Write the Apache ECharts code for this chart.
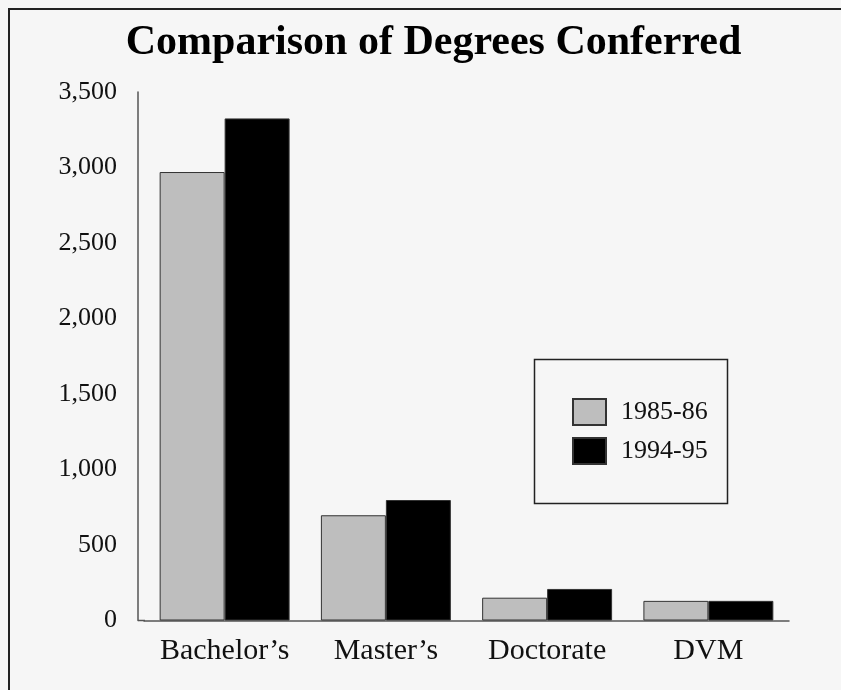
<!DOCTYPE html>
<html>
<head>
<meta charset="utf-8">
<script src="https://cdn.jsdelivr.net/npm/echarts@6/dist/echarts.min.js"></script>
<style>
  html, body { margin: 0; padding: 0; background: #f6f6f6; }
  #chart { width: 841px; height: 690px; }
</style>
</head>
<body>
<div id="chart"></div>
<script>
// Degrees conferred by level, two academic years
const categories = ["Bachelor\u2019s", "Master\u2019s", "Doctorate", "DVM"];
const seriesNames = ["1985-86", "1994-95"];
const values1985 = [2970, 697, 151, 130];
const values1994 = [3325, 798, 209, 130];
const yTicks = [0, 500, 1000, 1500, 2000, 2500, 3000, 3500];

const serif = "'Liberation Serif', 'Times New Roman', serif";
const chart = echarts.init(document.getElementById('chart'), null, { renderer: 'canvas' });

chart.setOption({
  backgroundColor: '#f6f6f6',
  animation: false,
  grid: { left: 144, top: 92, right: 52, bottom: 69.5, containLabel: false },
  xAxis: {
    type: 'category',
    data: categories,
    axisLine: { lineStyle: { color: '#555', width: 1.5 } },
    axisTick: { show: false },
    axisLabel: { color: '#111', fontFamily: serif, fontSize: 30, margin: 16, interval: 0, hideOverlap: false }
  },
  yAxis: {
    type: 'value',
    offset: 6,
    min: yTicks[0],
    max: yTicks[yTicks.length - 1],
    interval: 500,
    axisLine: { show: true, lineStyle: { color: '#555', width: 1.5 } },
    axisTick: { show: false },
    splitLine: { show: false },
    axisLabel: {
      color: '#111', fontFamily: serif, fontSize: 26, margin: 21,
      formatter: v => v.toLocaleString('en-US')
    }
  },
  legend: {
    data: seriesNames,
    orient: 'vertical',
    left: 567,
    top: 393,
    itemWidth: 33,
    itemHeight: 26,
    itemGap: 11,
    icon: 'rect',
    textStyle: { color: '#111', fontFamily: serif, fontSize: 26, padding: [0, 0, 0, 10] }
  },
  series: [
    {
      name: seriesNames[0],
      type: 'bar',
      data: values1985,
      barGap: '0%',
      barCategoryGap: '19.4%',
      itemStyle: { color: '#bebebe', borderColor: '#333', borderWidth: 1 }
    },
    {
      name: seriesNames[1],
      type: 'bar',
      data: values1994,
      itemStyle: { color: '#000', borderColor: '#333', borderWidth: 1 }
    }
  ],
  graphic: [
    // frame lines along the top and left edges
    { type: 'line', shape: { x1: 8, y1: 9, x2: 841, y2: 9 }, style: { stroke: '#222', lineWidth: 2 } },
    { type: 'line', shape: { x1: 9, y1: 9, x2: 9, y2: 690 }, style: { stroke: '#222', lineWidth: 2 } },
    // baseline stub joining the offset value axis to the category axis
    { type: 'line', shape: { x1: 138, y1: 620.5, x2: 145, y2: 620.5 }, style: { stroke: '#555', lineWidth: 1.5 } },
    // legend frame
    { type: 'rect', shape: { x: 534.5, y: 359.5, width: 193, height: 144 },
      style: { fill: 'none', stroke: '#222', lineWidth: 1.5 }, z: 1 },
    // chart title
    { type: 'text', x: 433.5, y: 22,
      style: { text: 'Comparison of Degrees Conferred', fill: '#000',
               font: "bold 42px 'Liberation Serif', 'Times New Roman', serif",
               textVerticalAlign: 'top', textAlign: 'center' } }
  ]
});
</script>
</body>
</html>
